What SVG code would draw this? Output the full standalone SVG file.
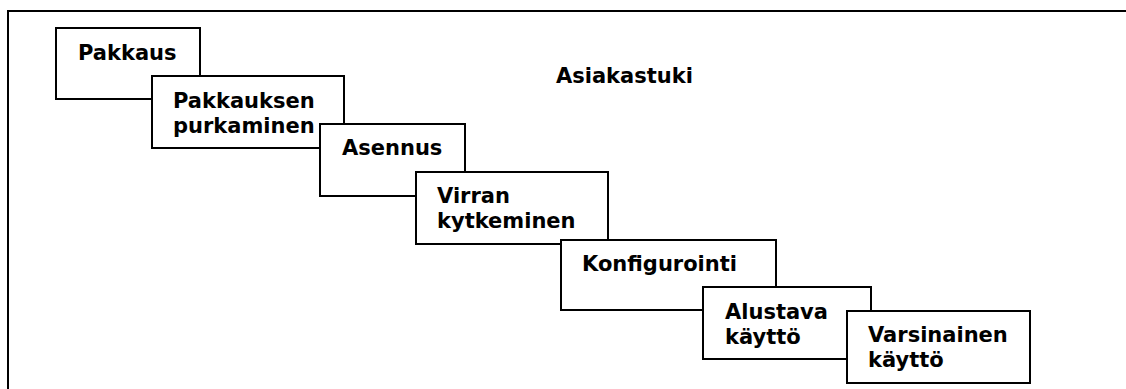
<svg xmlns="http://www.w3.org/2000/svg" width="1126" height="389" viewBox="0 0 1126 389">
<style>
.frame{fill:none;stroke:#000;stroke-width:2}
.box{fill:#fff;stroke:#000;stroke-width:2}
.t{font-family:"DejaVu Sans",Verdana,sans-serif;font-weight:bold;font-size:21px;fill:#000}
</style>
<rect x="0" y="0" width="1126" height="389" fill="#fff"/>
<rect class="frame" x="8" y="11" width="1140" height="400"/>
<text class="t" x="556" y="83">Asiakastuki</text>
<g id="pakkaus"><rect class="box" x="56" y="28" width="144" height="71"/><text class="t" x="78" y="60">Pakkaus</text></g>
<g id="purkaminen"><rect class="box" x="152" y="76" width="192" height="72"/><text class="t" x="173" y="108">Pakkauksen<tspan x="173" dy="25">purkaminen</tspan></text></g>
<g id="asennus"><rect class="box" x="320" y="124" width="145" height="72"/><text class="t" x="342" y="155">Asennus</text></g>
<g id="virran"><rect class="box" x="416" y="172" width="192" height="72"/><text class="t" x="437" y="203">Virran<tspan x="437" dy="25">kytkeminen</tspan></text></g>
<g id="konfigurointi"><rect class="box" x="561" y="240" width="215" height="70"/><text class="t" x="582" y="271">Konfigurointi</text></g>
<g id="alustava"><rect class="box" x="703" y="287" width="168" height="72"/><text class="t" x="725" y="319">Alustava<tspan x="725" dy="25">käyttö</tspan></text></g>
<g id="varsinainen"><rect class="box" x="847" y="311" width="183" height="72"/><text class="t" x="868" y="342">Varsinainen<tspan x="868" dy="25">käyttö</tspan></text></g>
<g id="connectors"></g>
</svg>
